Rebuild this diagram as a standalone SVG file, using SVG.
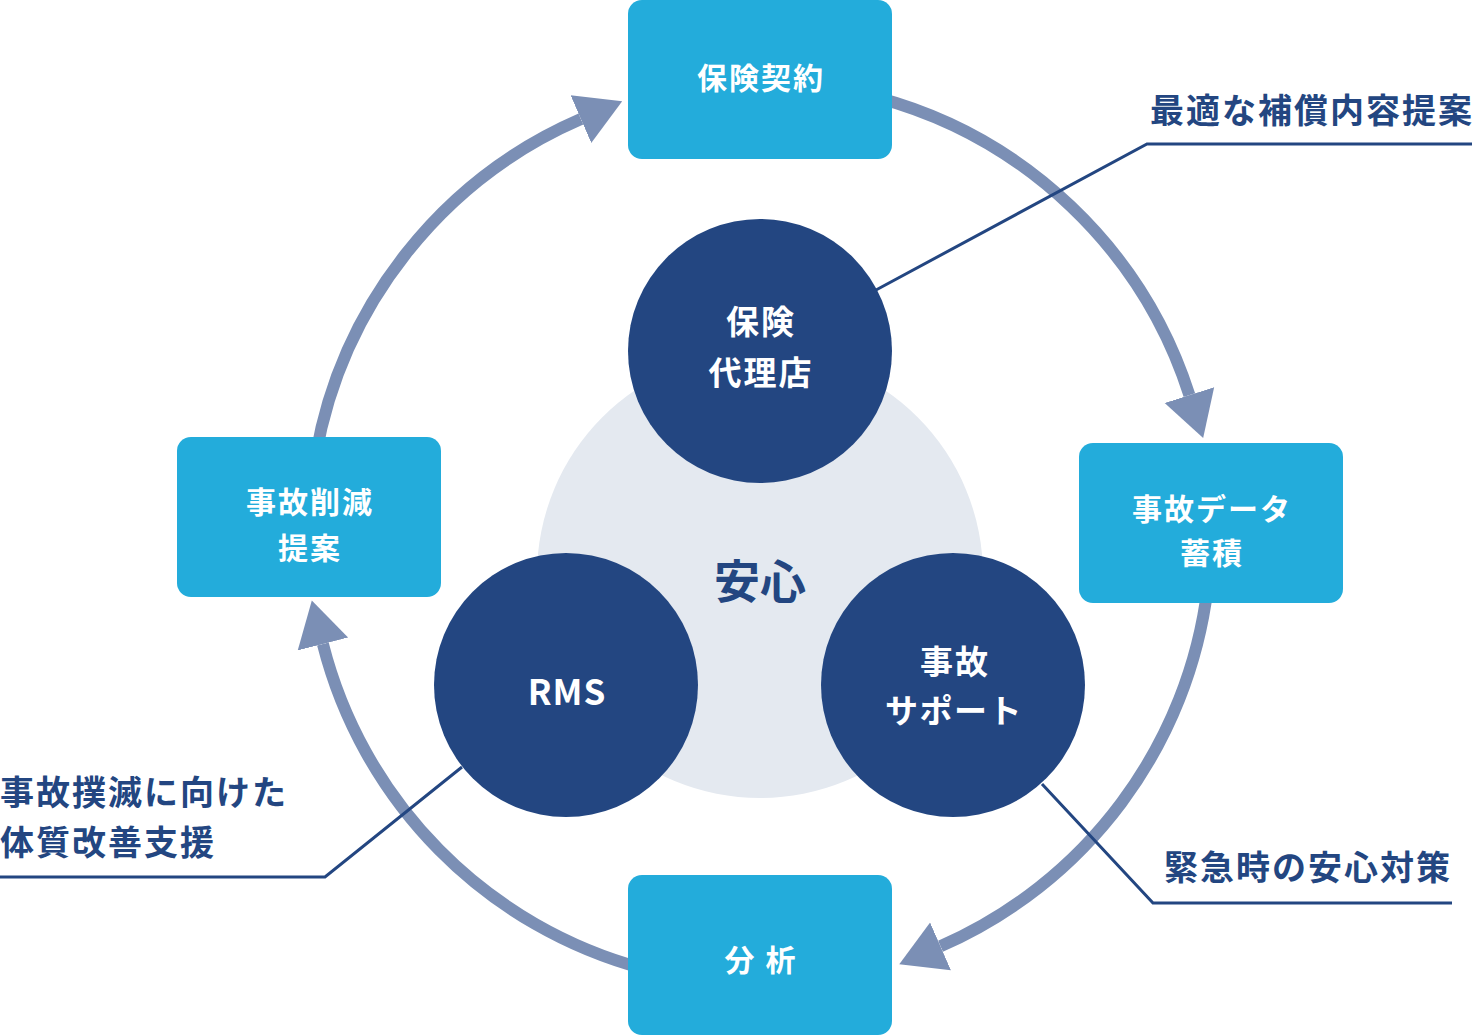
<svg xmlns="http://www.w3.org/2000/svg" width="1474" height="1035" viewBox="0 0 1474 1035">
<defs>
<style>
.box{fill:#23acdb}
.circ{fill:#234681}
.core{fill:#e4e9f0}
.arc{fill:none;stroke:#7b8fb5;stroke-width:12}
.lead{fill:none;stroke:#234681;stroke-width:3}
text{font-family:"Noto Sans CJK JP","Noto Sans",sans-serif;font-weight:700;dominant-baseline:central}
.bt{fill:#ffffff;font-size:30px;letter-spacing:2px;text-anchor:middle}
.ct{fill:#ffffff;font-size:33px;letter-spacing:2px;text-anchor:middle}
.lt{fill:#234681;font-size:34px;letter-spacing:2px}
</style>
<marker id="ah" markerUnits="userSpaceOnUse" markerWidth="50" markerHeight="56" refX="0" refY="26" orient="auto" viewBox="0 0 50 52">
<path d="M0,0 L45,26 L0,52 z" fill="#7b8fb5"/>
</marker>
</defs>
<rect width="1474" height="1035" fill="#ffffff"/>
<g id="core">
<circle class="core" cx="760" cy="575" r="223"/>
<text x="760" y="578" fill="#234681" style="font-size:46px;text-anchor:middle">安心</text>
</g>
<g id="connectors">
<path class="arc" d="M315.9,454.7 A451,451 0 0 1 580.9,119.1" marker-end="url(#ah)"/>
<path class="arc" d="M876.7,97.4 A451,451 0 0 1 1189.4,395.1" marker-end="url(#ah)"/>
<path class="arc" d="M1207.6,588 A451,451 0 0 1 940.5,946.3" marker-end="url(#ah)"/>
<path class="arc" d="M643.3,968.6 A451,451 0 0 1 322.9,644" marker-end="url(#ah)"/>
</g>
<g id="node-keiyaku">
<rect class="box" x="628" y="0" width="264" height="159" rx="14"/>
<text class="bt" x="761" y="76">保険契約</text>
</g>
<g id="node-data">
<rect class="box" x="1079" y="443" width="264" height="160" rx="14"/>
<text class="bt" x="1212" y="507">事故データ</text>
<text class="bt" x="1212" y="551">蓄積</text>
</g>
<g id="node-bunseki">
<rect class="box" x="628" y="875" width="264" height="160" rx="14"/>
<text class="bt" x="761" y="958">分 析</text>
</g>
<g id="node-sakugen">
<rect class="box" x="177" y="437" width="264" height="160" rx="14"/>
<text class="bt" x="310" y="500">事故削減</text>
<text class="bt" x="310" y="546">提案</text>
</g>
<g id="node-dairiten">
<circle class="circ" cx="760" cy="351" r="132"/>
<text class="ct" x="761" y="320">保険</text>
<text class="ct" x="761" y="371">代理店</text>
</g>
<g id="node-rms">
<circle class="circ" cx="566" cy="685" r="132"/>
<text class="ct" x="567" y="689" style="font-size:35px;letter-spacing:1px">RMS</text>
</g>
<g id="node-support">
<circle class="circ" cx="953" cy="685" r="132"/>
<text class="ct" x="955" y="660">事故</text>
<text class="ct" x="954" y="709" style="letter-spacing:1.5px">サポート</text>
</g>
<g id="leaders">
<polyline class="lead" points="876,290 1147,144 1472,144"/>
<polyline class="lead" points="1042,784 1153,903 1452,903"/>
<polyline class="lead" points="462,767 325,877 0,877"/>
</g>
<g id="label-hosho">
<text class="lt" x="1150" y="108">最適な補償内容提案</text>
</g>
<g id="label-kinkyu">
<text class="lt" x="1164" y="865">緊急時の安心対策</text>
</g>
<g id="label-rms">
<text class="lt" x="0" y="790">事故撲滅に向けた</text>
<text class="lt" x="0" y="840">体質改善支援</text>
</g>
</svg>
